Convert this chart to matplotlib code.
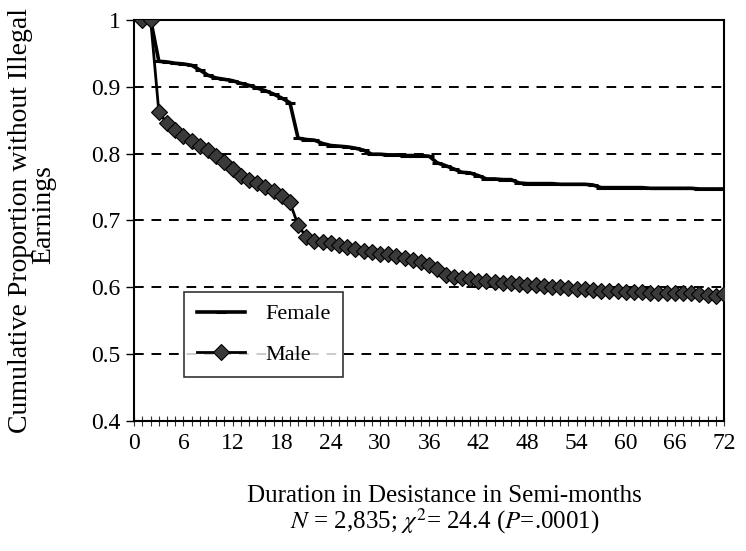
import numpy as np
import matplotlib
matplotlib.use("Agg")
import matplotlib.pyplot as plt
from matplotlib.ticker import MultipleLocator, FuncFormatter

plt.rcParams['font.family'] = ['Liberation Serif', 'DejaVu Serif']
plt.rcParams['mathtext.fontset'] = 'stix'

# semi-month index
months = list(range(1, 73))

female = [1.0, 1.0, 0.938, 0.937, 0.935, 0.934, 0.932, 0.925, 0.917, 0.913,
          0.911, 0.909, 0.905, 0.902, 0.898, 0.894, 0.889, 0.883, 0.876, 0.823,
          0.821, 0.820, 0.815, 0.812, 0.811, 0.810, 0.808, 0.805, 0.799, 0.799,
          0.798, 0.798, 0.797, 0.797, 0.797, 0.796, 0.786, 0.782, 0.777, 0.772,
          0.771, 0.767, 0.762, 0.762, 0.761, 0.761, 0.756, 0.755, 0.755, 0.755,
          0.755, 0.754, 0.754, 0.754, 0.754, 0.753, 0.749, 0.749, 0.749, 0.749,
          0.749, 0.749, 0.748, 0.748, 0.748, 0.748, 0.748, 0.748, 0.747, 0.747,
          0.747, 0.747]

male = [1.0, 1.0, 0.862, 0.845, 0.835, 0.826, 0.819, 0.812, 0.806, 0.797,
        0.787, 0.777, 0.766, 0.760, 0.756, 0.750, 0.744, 0.737, 0.727, 0.693,
        0.675, 0.669, 0.667, 0.666, 0.663, 0.660, 0.657, 0.654, 0.652, 0.650,
        0.649, 0.647, 0.644, 0.641, 0.638, 0.634, 0.628, 0.618, 0.615, 0.614,
        0.612, 0.610, 0.609, 0.608, 0.607, 0.606, 0.605, 0.604, 0.603, 0.602,
        0.601, 0.600, 0.599, 0.598, 0.597, 0.596, 0.595, 0.594, 0.594, 0.593,
        0.593, 0.593, 0.592, 0.592, 0.592, 0.592, 0.591, 0.591, 0.590, 0.588,
        0.587, 0.590]

fig = plt.figure(figsize=(7.46, 5.51), dpi=100)
ax = fig.add_axes([0.18, 0.236, 0.7905, 0.728])

ax.plot(months, female, color='black', lw=2.6, marker='_', ms=7, mew=2.2,
        label='Female', zorder=3)
ax.plot(months, male, color='black', lw=2.0, marker='D', ms=8,
        mfc='#3a3a3a', mec='black', mew=0.8, label='Male', zorder=4)

ax.set_xlim(0, 72)
ax.set_ylim(0.4, 1.0)
ax.xaxis.set_major_locator(MultipleLocator(6))
ax.xaxis.set_minor_locator(MultipleLocator(1))
ax.yaxis.set_major_locator(MultipleLocator(0.1))
ax.yaxis.set_major_formatter(FuncFormatter(lambda v, p: '1' if abs(v - 1) < 1e-9 else f'{v:.1f}'))

for y in [0.5, 0.6, 0.7, 0.8, 0.9]:
    ax.axhline(y, color='black', lw=1.4, ls=(0, (5, 4)), zorder=1)

ax.tick_params(axis='x', which='both', direction='inout', length=7, width=0.8,
               color='#333333', labelsize=17, pad=5)
ax.tick_params(axis='y', direction='out', length=6, width=1, labelsize=17, pad=4)
for s in ax.spines.values():
    s.set_linewidth(1.5)

fig.text(0.027, 0.6, 'Cumulative Proportion without Illegal', rotation=90,
         ha='center', va='center', fontsize=20)
fig.text(0.058, 0.61, 'Earnings', rotation=90, ha='center', va='center', fontsize=20)

fig.text(0.596, 0.1, 'Duration in Desistance in Semi-months', ha='center',
         va='center', fontsize=18)
fig.text(0.596, 0.055, r'$N$ = 2,835; $\chi^{2}$= 24.4 ($P$=.0001)', ha='center',
         va='center', fontsize=18)

leg = ax.legend(loc='upper left', bbox_to_anchor=(0.066, 0.35), fontsize=16,
                frameon=True, fancybox=False, edgecolor='black',
                handlelength=2.2, borderpad=0.55, labelspacing=0.9,
                handletextpad=0.9)
leg.get_frame().set_linewidth(1.2)

fig.savefig('out.png', dpi=100)
